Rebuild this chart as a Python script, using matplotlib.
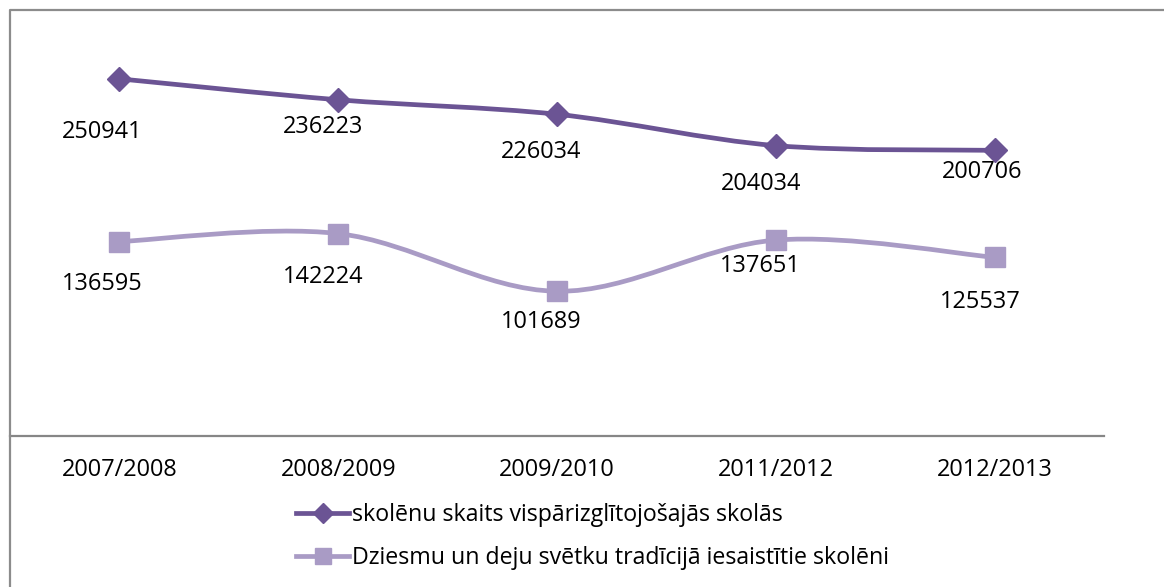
import matplotlib
matplotlib.use("Agg")
import matplotlib.pyplot as plt
from matplotlib.path import Path
from matplotlib.patches import PathPatch
from matplotlib.lines import Line2D

# ---- data ----
categories = ["2007/2008", "2008/2009", "2009/2010", "2011/2012", "2012/2013"]
students_total = [250941, 236223, 226034, 204034, 200706]
students_festival = [136595, 142224, 101689, 137651, 125537]
label_total = "skolēnu skaits vispārizglītojošajās skolās"
label_festival = "Dziesmu un deju svētku tradīcijā iesaistītie skolēni"

# label offsets (pixels, relative to point)
offs_total = [(-17, -53), (-15, -27), (-16, -38), (-15, -38), (-12, -22)]
offs_festival = [(-17, -42), (-15, -43), (-16, -31), (-15, -26), (-14, -45)]

C_DARK = "#6B5494"
C_LIGHT = "#A99BC5"
FONT = ["Open Sans", "DejaVu Sans"]
FS = 16.9

plt.rcParams["font.family"] = FONT

W, H = 1164, 587
fig = plt.figure(figsize=(W / 100, H / 100), dpi=100)
ax = fig.add_axes([10 / W, 1 - 436 / H, (1104 - 10) / W, 427 / H])
ax.set_xlim(-0.5, len(categories) - 0.5)
ax.set_ylim(0, 300000)


def smooth_path(xs, ys):
    pts = list(zip(xs, ys))
    n = len(pts)
    verts = [pts[0]]
    codes = [Path.MOVETO]
    for i in range(n - 1):
        p0 = pts[i - 1] if i > 0 else pts[i]
        p1 = pts[i]
        p2 = pts[i + 1]
        p3 = pts[i + 2] if i + 2 < n else pts[i + 1]
        c1 = (p1[0] + (p2[0] - p0[0]) / 6, p1[1] + (p2[1] - p0[1]) / 6)
        c2 = (p2[0] - (p3[0] - p1[0]) / 6, p2[1] - (p3[1] - p1[1]) / 6)
        verts += [c1, c2, p2]
        codes += [Path.CURVE4] * 3
    return Path(verts, codes)


x = list(range(len(categories)))
for vals, col, mk, ms, offs in [
    (students_total, C_DARK, "D", 12, offs_total),
    (students_festival, C_LIGHT, "s", 14, offs_festival),
]:
    ax.add_patch(PathPatch(smooth_path(x, vals), facecolor="none", edgecolor=col,
                           lw=3.4, capstyle="round", zorder=2))
    ax.plot(x, vals, linestyle="none", marker=mk, markersize=ms, color=col, zorder=3)
    for xi, v, (dx, dy) in zip(x, vals, offs):
        ax.annotate(f"{v}", (xi, v), xytext=(dx, dy), textcoords="offset pixels",
                    ha="center", va="center", fontsize=FS, color="black")

ax.set_xticks(x)
ax.set_xticklabels(categories, fontsize=FS)
ax.tick_params(axis="x", length=0, pad=16)
ax.set_yticks([])
for s in ["top", "right", "left"]:
    ax.spines[s].set_visible(False)
ax.spines["bottom"].set_color("#868686")
ax.spines["bottom"].set_linewidth(1.6)

# outer frame (left and top borders)
fig.add_artist(Line2D([10 / W, 10 / W, 1.0], [0, 1 - 10 / H, 1 - 10 / H],
                      transform=fig.transFigure, color="#8C8C8C", lw=1.6))

handles = [
    Line2D([], [], color=C_DARK, lw=3.4, marker="D", markersize=10),
    Line2D([], [], color=C_LIGHT, lw=3.4, marker="s", markersize=12),
]
fig.legend(handles, [label_total, label_festival], loc="upper left",
           bbox_to_anchor=(296 / W, 1 - 503 / H), frameon=False, fontsize=16.7,
           handlelength=2.3, handletextpad=0.12, labelspacing=0.84,
           borderpad=0, borderaxespad=0)

fig.savefig("out.png", dpi=100)
